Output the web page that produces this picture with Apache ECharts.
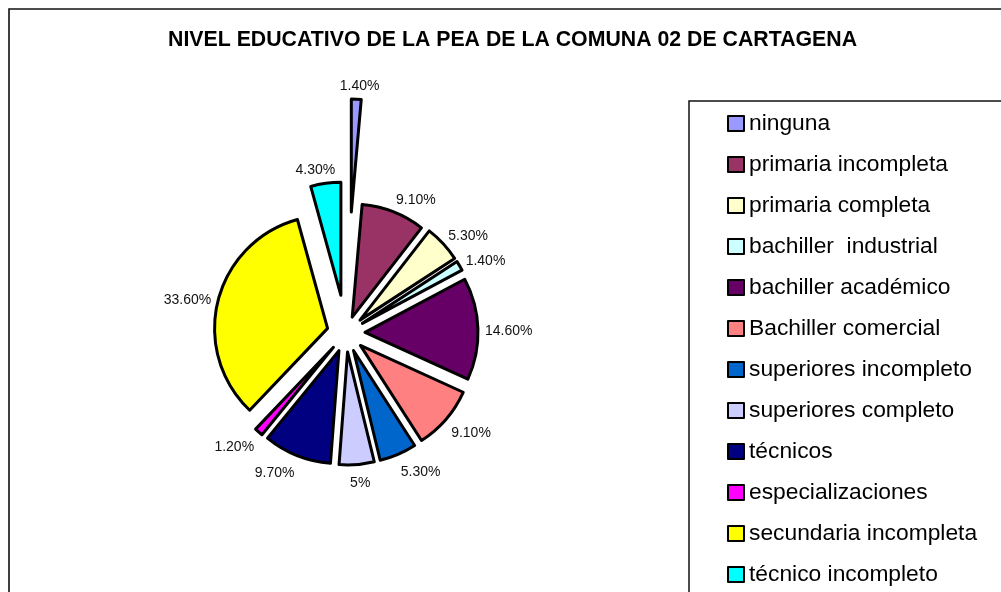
<!DOCTYPE html>
<html>
<head>
<meta charset="utf-8">
<script src="https://cdn.jsdelivr.net/npm/echarts@6/dist/echarts.min.js"></script>
<style>
  html, body { margin: 0; padding: 0; background: #fff; }
  #chart { width: 1001px; height: 592px; }
</style>
</head>
<body>
<div id="chart"></div>
<script>
// ---- data ----
const titleText = 'NIVEL EDUCATIVO DE LA PEA DE LA COMUNA 02 DE CARTAGENA';
const categories = ['ninguna', 'primaria incompleta', 'primaria completa', 'bachiller  industrial',
  'bachiller académico', 'Bachiller comercial', 'superiores incompleto', 'superiores completo',
  'técnicos', 'especializaciones', 'secundaria incompleta', 'técnico incompleto'];
const values = [1.4, 9.1, 5.3, 1.4, 14.6, 9.1, 5.3, 5, 9.7, 1.2, 33.6, 4.3];
const labelTexts = ['1.40%', '9.10%', '5.30%', '1.40%', '14.60%', '9.10%', '5.30%', '5%',
  '9.70%', '1.20%', '33.60%', '4.30%'];

// ---- styling ----
const colors = ['#9999FF', '#993366', '#FFFFCC', '#CCFFFF', '#660066', '#FF8080',
  '#0066CC', '#CCCCFF', '#000080', '#FF00FF', '#FFFF00', '#00FFFF'];
const pieCenter = [346, 333];
const pieRadius = 113;
const defaultExplode = 19;
const explodeByName = { 'ninguna': 121, 'primaria incompleta': 17, 'técnico incompleto': 38 };
const FONT = 'Liberation Sans, Arial, sans-serif';

const total = values.reduce((a, b) => a + b, 0);
// direction (screen coords) of each slice's middle, clockwise from 12 o'clock
const midDir = values.map((v, i) => {
  const before = values.slice(0, i).reduce((a, b) => a + b, 0);
  const t = (before + v / 2) / total * Math.PI * 2;
  return [Math.sin(t), -Math.cos(t)];
});
const explodeOf = name => (explodeByName[name] !== undefined ? explodeByName[name] : defaultExplode);

// one pie layer per slice so each slice can be pulled out on its own distance
const series = categories.map((name, k) => {
  const off = explodeOf(name);
  const u = midDir[k];
  return {
    type: 'pie',
    center: [pieCenter[0] + off * u[0], pieCenter[1] + off * u[1]],
    radius: pieRadius,
    startAngle: 90,
    clockwise: true,
    silent: true,
    avoidLabelOverlap: false,
    label: {
      show: true,
      position: 'outside',
      color: '#111',
      fontFamily: FONT,
      fontSize: 14,
      distanceToLabelLine: 0
    },
    labelLine: { show: false, length: 7, length2: 0 },
    labelLayout: function (p) {
      if (p.dataIndex !== k) return {};
      const w = p.labelRect.width, h = p.labelRect.height;
      const sgn = u[0] >= 0 ? 1 : -1;
      const f = Math.max(-1, Math.min(1, 3.5 * u[0]));
      return { dx: (f - sgn) * w / 2, dy: (h / 2 + 2) * u[1] + 3 };
    },
    itemStyle: { borderColor: '#000', borderWidth: 3 },
    data: categories.map((nm, i) => {
      if (i === k) {
        return {
          name: nm,
          value: values[i],
          itemStyle: { color: colors[i] },
          label: { formatter: labelTexts[i] }
        };
      }
      return {
        name: '_hidden_' + k + '_' + i,
        value: values[i],
        itemStyle: { color: 'rgba(0,0,0,0)', borderWidth: 0 },
        label: { show: false },
        labelLine: { show: false }
      };
    })
  };
});

const chart = echarts.init(document.getElementById('chart'), null, { renderer: 'canvas' });
chart.setOption({
  animation: false,
  backgroundColor: '#fff',
  title: {
    text: titleText,
    left: 168,
    top: 30,
    padding: 0,
    textStyle: { fontFamily: FONT, fontSize: 21.3, fontWeight: 'bold', color: '#000' }
  },
  graphic: [{
    type: 'rect',
    shape: { x: 9, y: 9, width: 1100, height: 700 },
    style: { fill: 'none', stroke: '#111', lineWidth: 1.6 },
    silent: true,
    z: -10
  }],
  legend: {
    orient: 'vertical',
    left: 689,
    top: 101,
    height: 900,
    padding: [11, 80, 40, 38],
    borderColor: '#111',
    borderWidth: 1.5,
    itemWidth: 16,
    itemHeight: 15,
    itemGap: 18,
    icon: 'rect',
    selectedMode: false,
    itemStyle: { borderColor: '#000', borderWidth: 2 },
    textStyle: { fontFamily: FONT, fontSize: 22.8, color: '#000', lineHeight: 22.4 },
    data: categories
  },
  series: series
});
</script>
</body>
</html>
